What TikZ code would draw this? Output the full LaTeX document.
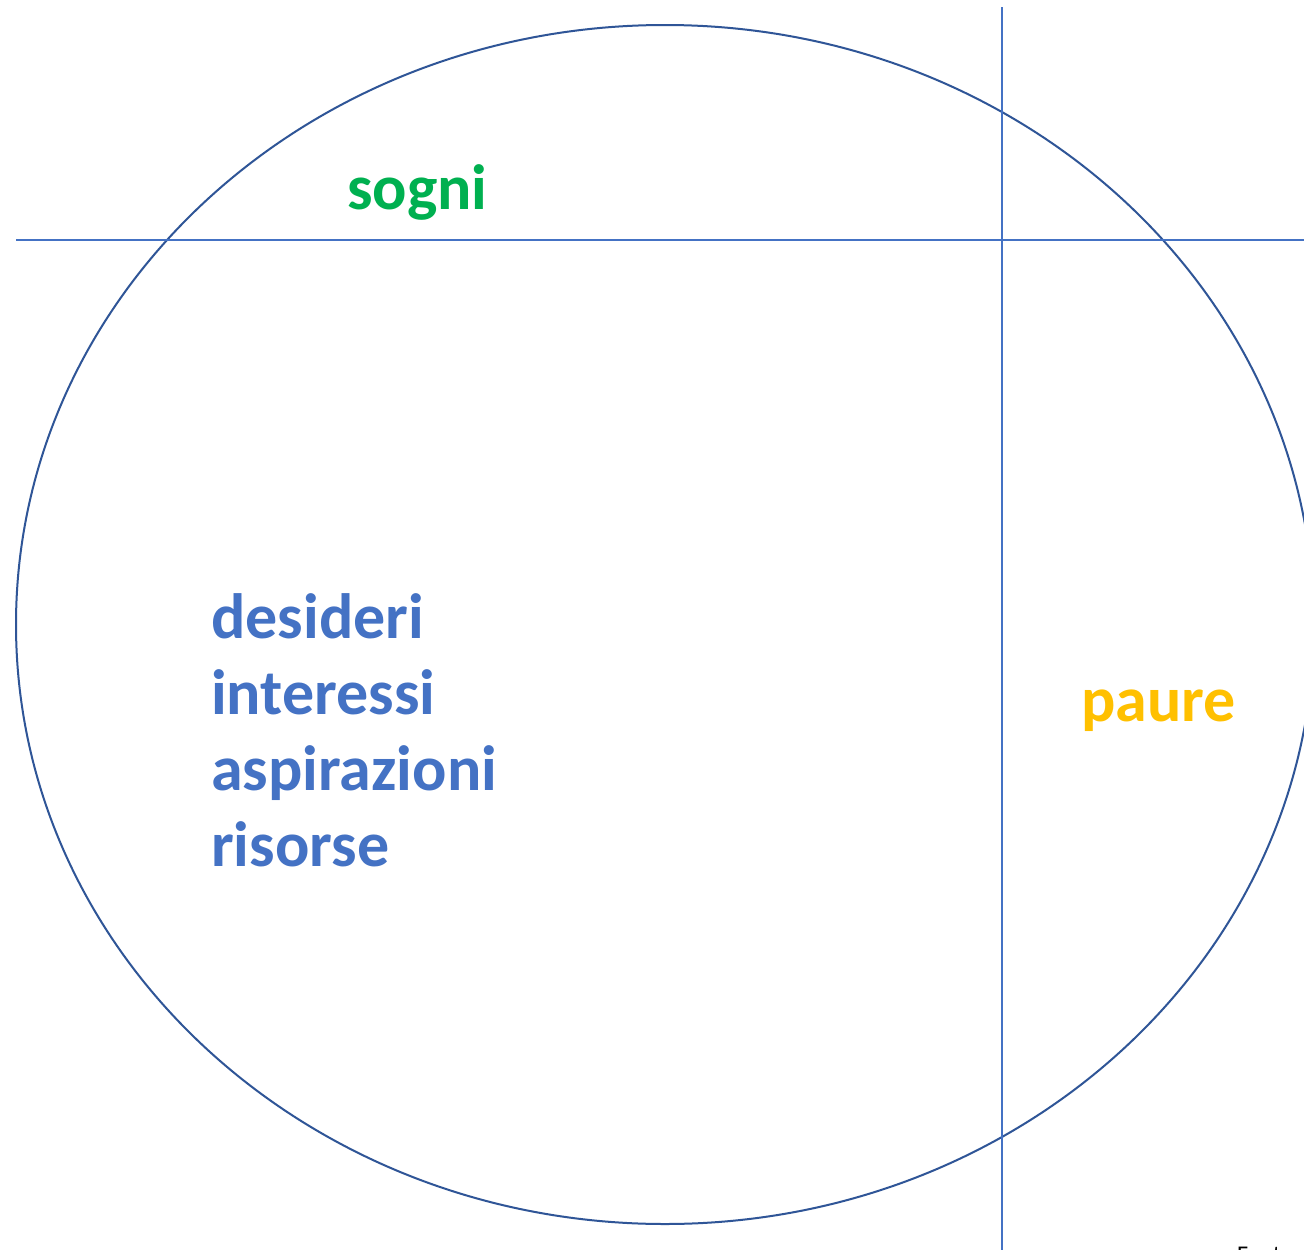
\documentclass[tikz,border=0pt]{standalone}
\usepackage{fontspec}
\setmainfont{Carlito}
\definecolor{ellcol}{HTML}{2F5597}
\definecolor{linecol}{HTML}{4472C4}
\definecolor{txtblue}{HTML}{4472C4}
\definecolor{txtgreen}{HTML}{00B050}
\definecolor{txtgold}{HTML}{FFC000}
\begin{document}
\begin{tikzpicture}[x=1pt,y=-1pt,
  lbl/.style={anchor=base west,inner sep=0pt,font=\fontsize{64}{76}\selectfont\bfseries},
  guide/.style={draw=linecol,line width=1.2pt}]
\useasboundingbox (0,0) rectangle (1304,1250);
\clip (0,0) rectangle (1304,1250);
\fill[white] (0,0) rectangle (1304,1250);
\draw[ellcol,line width=2pt] (665,624.5) ellipse [x radius=649, y radius=599.5];
\coordinate (hl) at (16,240);
\coordinate (hr) at (1304,240);
\coordinate (vt) at (1002,7);
\coordinate (vb) at (1002,1250);
\draw[guide] (hl) -- (hr);
\draw[guide] (vt) -- (vb);
\node[lbl,text=txtgreen] (sogni) at (347,209) {sogni};
\node[lbl,text=txtgold] (paure) at (1081,721) {paure};
\node[lbl,text=txtblue] (d1) at (211,638) {desideri};
\node[lbl,text=txtblue] (d2) at (211,714) {interessi};
\node[lbl,text=txtblue] (d3) at (211,790) {aspirazioni};
\node[lbl,text=txtblue] (d4) at (211,866) {risorse};
\node[anchor=base west,inner sep=0pt,font=\fontsize{24}{28}\selectfont] (fonte) at (1237,1262) {Fonte};
\end{tikzpicture}
\end{document}
